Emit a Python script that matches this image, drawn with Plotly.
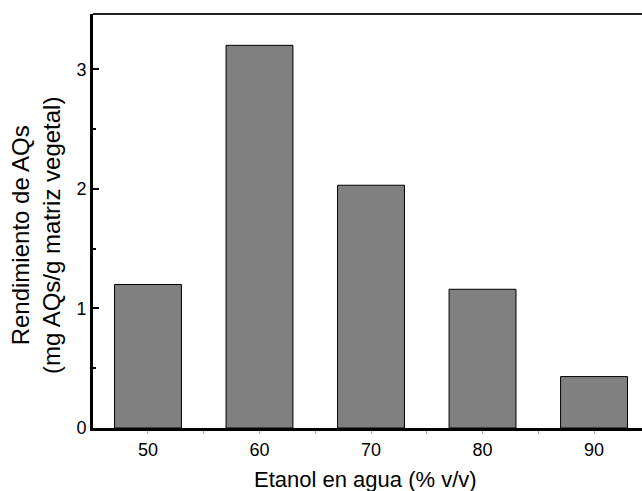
import plotly.graph_objects as go

categories = [50, 60, 70, 80, 90]
rendimiento = [1.20, 3.20, 2.03, 1.16, 0.43]
x_tick_labels = ["50", "60", "70", "80", "90"]
y_tick_vals = [0, 1, 2, 3]

FONT = "Arial, Liberation Sans, sans-serif"

fig = go.Figure()
fig.add_trace(go.Bar(
    x=categories, y=rendimiento, width=6,
    marker=dict(color="#808080", line=dict(color="#000000", width=1)),
))

fig.update_layout(
    width=642, height=491,
    margin=dict(l=93, r=0, t=14, b=63),
    paper_bgcolor="white", plot_bgcolor="white",
    showlegend=False,
    font=dict(family=FONT, color="black"),
    xaxis=dict(
        range=[45.07, 94.3], tickvals=categories, ticktext=x_tick_labels,
        showline=True, linecolor="black", linewidth=3,
        ticks="outside", ticklen=3, tickwidth=1, tickcolor="#aaaaaa",
        minor=dict(dtick=5, tick0=55, ticks="outside", ticklen=3, tickwidth=1, tickcolor="#aaaaaa"),
        showgrid=False, zeroline=False,
        tickfont=dict(size=18), ticklabelstandoff=0,
    ),
    yaxis=dict(
        range=[0, 3.462], tickvals=y_tick_vals,
        showline=True, linecolor="black", linewidth=3,
        ticks="inside", ticklen=6, tickwidth=2, tickcolor="black",
        minor=dict(dtick=0.5, ticks="inside", ticklen=3, tickwidth=2, tickcolor="black"),
        showgrid=False, zeroline=False,
        tickfont=dict(size=18), ticklabelstandoff=0,
    ),
    shapes=[dict(type="line", xref="paper", yref="paper", x0=0, x1=1, y0=1, y1=1,
                 line=dict(color="#222222", width=2))],
    annotations=[
        dict(
            text="Rendimiento de AQs<br>(mg AQs/g matriz vegetal)",
            xref="paper", yref="paper", x=-0.104, y=0.466, xanchor="center", yanchor="middle",
            textangle=-90, showarrow=False, font=dict(size=24, family=FONT),
        ),
        dict(
            text="Etanol en agua (% v/v)",
            xref="paper", yref="paper", x=0.496, y=-0.1256, xanchor="center", yanchor="middle",
            showarrow=False, font=dict(size=22, family=FONT),
        ),
    ],
)

fig.write_html("out.html")
